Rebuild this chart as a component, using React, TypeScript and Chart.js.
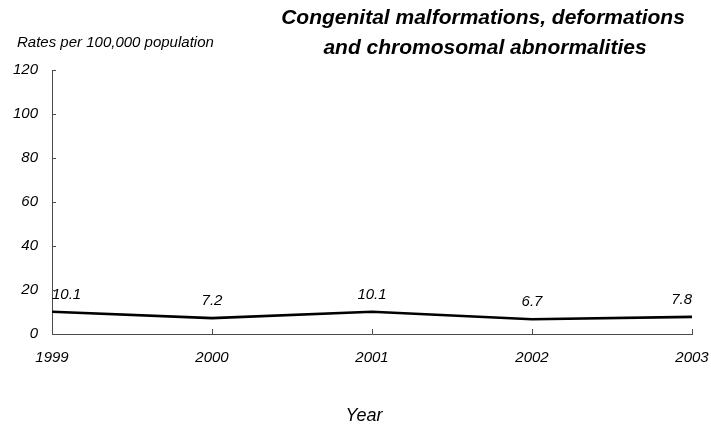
import React, { useEffect, useRef } from "react";
import { Chart, registerables } from "chart.js";

Chart.register(...registerables);

const years: string[] = ["1999", "2000", "2001", "2002", "2003"];
const rates: number[] = [10.1, 7.2, 10.1, 6.7, 7.8];
const yTicks: number[] = [0, 20, 40, 60, 80, 100, 120];
const titleLines: string[] = [
  "Congenital malformations, deformations",
  "and chromosomal abnormalities",
];
const yAxisTitle = "Rates per 100,000 population";
const xAxisTitle = "Year";

const FONT = "'Liberation Sans', Arial, sans-serif";
const AXIS_COLOR = "#4a4a4a";

const textPlugin = {
  id: "customText",
  afterDraw(chart: any) {
    const ctx = chart.ctx;
    const area = chart.chartArea;
    const xs = chart.scales.x;
    const ys = chart.scales.y;
    ctx.save();
    // inward tick marks
    ctx.strokeStyle = AXIS_COLOR;
    ctx.lineWidth = 1;
    ctx.beginPath();
    yTicks.forEach((v) => {
      if (v === 0) return;
      const y = Math.round(ys.getPixelForValue(v)) + 0.5;
      ctx.moveTo(area.left, y);
      ctx.lineTo(area.left + 4, y);
    });
    years.forEach((_, i) => {
      if (i === 0) return;
      const x = Math.round(xs.getPixelForValue(i)) + 0.5;
      ctx.moveTo(x, area.bottom);
      ctx.lineTo(x, area.bottom - 5);
    });
    ctx.stroke();

    // titles
    ctx.fillStyle = "#000";
    ctx.textAlign = "center";
    ctx.textBaseline = "middle";
    ctx.font = `italic bold 21px ${FONT}`;
    ctx.fillText(titleLines[0], 483, 18);
    ctx.fillText(titleLines[1], 485, 48);

    ctx.font = `italic 15px ${FONT}`;
    ctx.textAlign = "left";
    ctx.fillText(yAxisTitle, 17, 43);

    ctx.font = `italic 18px ${FONT}`;
    ctx.textAlign = "center";
    ctx.fillText(xAxisTitle, 364, 416);
    ctx.restore();
  },
  afterDatasetsDraw(chart: any) {
    const ctx = chart.ctx;
    const meta = chart.getDatasetMeta(0);
    const data = chart.data.datasets[0].data as number[];
    ctx.save();
    ctx.fillStyle = "#000";
    ctx.font = `italic 15px ${FONT}`;
    ctx.textBaseline = "middle";
    meta.data.forEach((pt: any, i: number) => {
      ctx.textAlign = i === 0 ? "left" : i === data.length - 1 ? "right" : "center";
      ctx.fillText(data[i].toFixed(1), pt.x, pt.y - 17);
    });
    ctx.restore();
  },
};

export default function App() {
  const canvasRef = useRef<HTMLCanvasElement | null>(null);

  useEffect(() => {
    if (!canvasRef.current) return;
    const chart = new Chart(canvasRef.current, {
      type: "line",
      data: {
        labels: years,
        datasets: [
          {
            data: rates,
            borderColor: "#000",
            borderWidth: 2.6,
            pointRadius: 0,
            tension: 0,
            fill: false,
          },
        ],
      },
      options: {
        responsive: false,
        animation: false,
        layout: { padding: { top: 70, right: 19, left: 0, bottom: 0 } },
        plugins: {
          legend: { display: false },
          tooltip: { enabled: false },
          title: { display: false },
        },
        scales: {
          x: {
            type: "category",
            offset: false,
            grid: { display: false, drawTicks: false },
            border: { display: true, color: AXIS_COLOR, width: 1 },
            ticks: {
              color: "#000",
              padding: 15,
              maxRotation: 0,
              autoSkip: false,
              font: { family: FONT, size: 15, style: "italic" },
            },
            afterFit(scale: any) {
              scale.height = 92;
              scale.paddingLeft = 0;
              scale.paddingRight = 0;
            },
          },
          y: {
            min: 0,
            max: 120,
            grid: { display: false, drawTicks: false },
            border: { display: true, color: AXIS_COLOR, width: 1 },
            ticks: {
              stepSize: 20,
              color: "#000",
              padding: 14,
              font: { family: FONT, size: 15, style: "italic" },
            },
            afterFit(scale: any) {
              scale.width = 52;
              scale.paddingTop = 0;
              scale.paddingBottom = 0;
            },
          },
        },
      },
      plugins: [textPlugin],
    });
    return () => chart.destroy();
  }, []);

  return (
    <div style={{ position: "fixed", left: 0, top: 0, width: 711, height: 426, background: "#fff" }}>
      <canvas ref={canvasRef} width={711} height={426} style={{ display: "block" }} />
    </div>
  );
}
